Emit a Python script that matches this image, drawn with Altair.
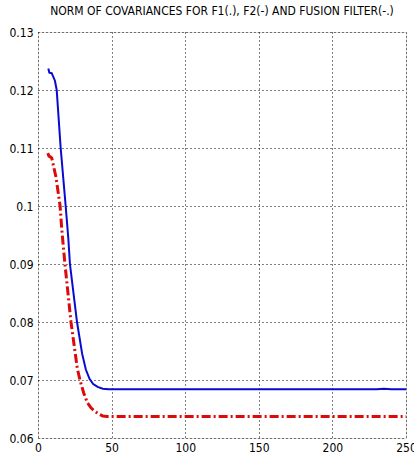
import altair as alt
import pandas as pd

f1_x = [7.0, 7.7, 9.3, 11.5, 12.7, 15.4, 18.8, 20.6, 21.7, 26.5, 30.0, 32.5, 35.0, 37.5, 40.5, 44.0, 48.0, 100.0, 150.0, 200.0, 230.0, 235.0, 240.0, 250.0]
f1_y = [0.1237, 0.1230, 0.1229, 0.1216, 0.1200, 0.1100, 0.1000, 0.0944, 0.0900, 0.0800, 0.0745, 0.0718, 0.0702, 0.0693, 0.0688, 0.0685, 0.0684, 0.0684, 0.0684, 0.0684, 0.0684, 0.0685, 0.0684, 0.0684]

fus_x = [6.6, 7.5, 9.3, 12.2, 15.0, 16.1, 18.3, 22.4, 26.7, 28.5, 31.0, 33.5, 36.0, 38.7, 41.5, 44.0, 47.0, 100.0, 150.0, 200.0, 250.0]
fus_y = [0.1091, 0.1086, 0.1083, 0.1050, 0.1000, 0.0961, 0.0900, 0.0800, 0.0720, 0.0700, 0.0678, 0.0661, 0.0652, 0.0646, 0.0641, 0.0638, 0.0637, 0.0637, 0.0637, 0.0637, 0.0637]

x_ticks = [0, 50, 100, 150, 200, 250]
y_ticks = [0.06, 0.07, 0.08, 0.09, 0.10, 0.11, 0.12, 0.13]

df1 = pd.DataFrame({"x": f1_x, "y": f1_y})
df2 = pd.DataFrame({"x": fus_x, "y": fus_y})

FONT = "Liberation Sans Narrow, DejaVu Sans Condensed, Liberation Sans, sans-serif"

xs = alt.Scale(domain=[0, 250], nice=False, zero=False)
ys = alt.Scale(domain=[0.06, 0.13], nice=False, zero=False)

xaxis = alt.Axis(values=x_ticks, grid=True, gridDash=[1, 3], gridColor="black", gridOpacity=1,
                 ticks=False, domain=False, labelFont=FONT, labelFontSize=12, labelColor="black",
                 labelPadding=4, title=None, labelFlush=False)
yaxis = alt.Axis(values=y_ticks, grid=True, gridDash=[1, 3], gridColor="black", gridOpacity=1,
                 ticks=False, domain=False, labelFont=FONT, labelFontSize=12, labelColor="black",
                 labelPadding=5, title=None, labelExpr="replace(format(datum.value, '.2f'), /0$/, '')")

l1 = alt.Chart(df1).mark_line(color="#0a0ad0", strokeWidth=2, interpolate="linear").encode(
    x=alt.X("x:Q", scale=xs, axis=xaxis),
    y=alt.Y("y:Q", scale=ys, axis=yaxis),
)
l2 = alt.Chart(df2).mark_line(color="#dd0a0a", strokeWidth=3, strokeDash=[9, 3, 2, 3],
                              interpolate="linear").encode(
    x=alt.X("x:Q", scale=xs),
    y=alt.Y("y:Q", scale=ys),
)

chart = alt.layer(l1, l2).properties(
    width=368, height=406,
    title=alt.TitleParams("NORM OF COVARIANCES FOR F1(.), F2(-) AND FUSION FILTER(-.)",
                          font=FONT, fontSize=12, fontWeight="normal", color="black",
                          anchor="middle", offset=8),
    padding={"left": 38, "top": 32, "right": 8, "bottom": 23},
    autosize=alt.AutoSizeParams(type="none"),
).configure_view(stroke="black", strokeWidth=1.5).configure(background="white")

chart.save("out.html", embed_options={"renderer": "svg", "actions": False})
